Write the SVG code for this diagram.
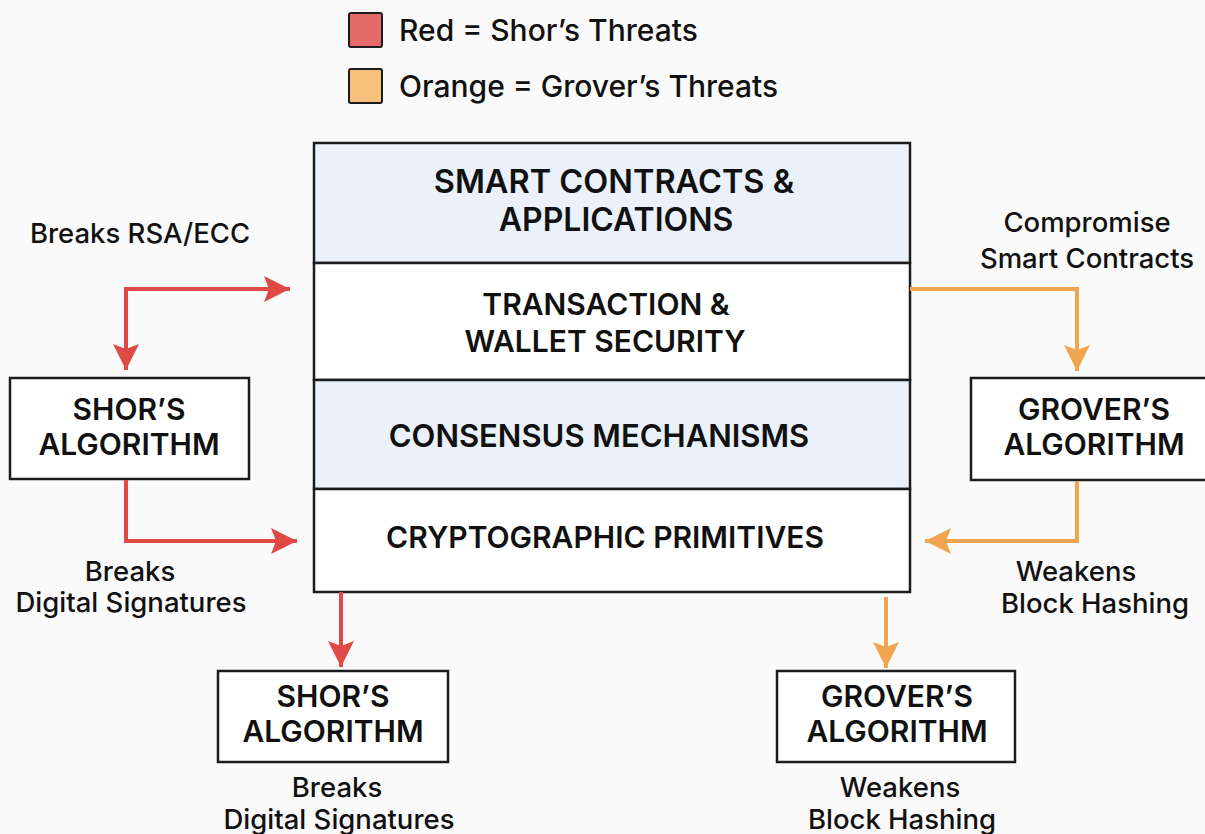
<svg xmlns="http://www.w3.org/2000/svg" width="1205" height="834" viewBox="0 0 1205 834">
<defs>
<style>
.bg{fill:#fafafa}
.box{fill:#ffffff;stroke:#1c1c1e;stroke-width:2.5}
.layerA{fill:#eaf1fb;stroke:#1c1c1e;stroke-width:2.5}
.layerB{fill:#ffffff;stroke:#1c1c1e;stroke-width:2.5}
.t{font-family:Inter,"Liberation Sans",sans-serif;fill:#111;text-anchor:middle}
.hd{font-size:30px;font-weight:600}
.lb{font-size:27.5px;font-weight:500}
.lg{font-family:Inter,"Liberation Sans",sans-serif;fill:#111;font-size:30px;font-weight:500}
.red{fill:none;stroke:#e04a46;stroke-width:4}
.org{fill:none;stroke:#f2a550;stroke-width:4}
</style>
<marker id="ahR" markerUnits="userSpaceOnUse" markerWidth="28" markerHeight="28" refX="26" refY="14" orient="auto-start-reverse" viewBox="0 0 28 28">
<path d="M0,1 L26,14 L0,27 L5,14 Z" fill="#e04a46"/>
</marker>
<marker id="ahO" markerUnits="userSpaceOnUse" markerWidth="28" markerHeight="28" refX="26" refY="14" orient="auto-start-reverse" viewBox="0 0 28 28">
<path d="M0,1 L26,14 L0,27 L5,14 Z" fill="#f2a550"/>
</marker>
</defs>
<rect class="bg" x="0" y="0" width="1205" height="834"/>

<g id="legend">
<rect x="349" y="13" width="33" height="34" rx="2" fill="#e56a68" stroke="#1c1c1e" stroke-width="2"/>
<text class="lg" x="399" y="41">Red = Shor’s Threats</text>
<rect x="349" y="69" width="33" height="34" rx="2" fill="#f7c07c" stroke="#1c1c1e" stroke-width="2"/>
<text class="lg" x="399" y="97">Orange = Grover’s Threats</text>
</g>

<g id="stack">
<rect class="layerA" x="314" y="143" width="596" height="120"/>
<rect class="layerB" x="314" y="263" width="596" height="117"/>
<rect class="layerA" x="314" y="380" width="596" height="109"/>
<rect class="layerB" x="314" y="489" width="596" height="103"/>
<text class="t hd" x="614" y="193" style="font-size:32.5px">SMART CONTRACTS &amp;</text>
<text class="t hd" x="616" y="231" style="font-size:32px">APPLICATIONS</text>
<text class="t hd" x="606" y="315">TRANSACTION &amp;</text>
<text class="t hd" x="605" y="352">WALLET SECURITY</text>
<text class="t hd" x="599" y="447" style="font-size:31px">CONSENSUS MECHANISMS</text>
<text class="t hd" x="605" y="548">CRYPTOGRAPHIC PRIMITIVES</text>
</g>

<g id="shor-left">
<rect class="box" x="10" y="378" width="239" height="101"/>
<text class="t hd" x="129" y="420">SHOR’S</text>
<text class="t hd" x="129" y="455">ALGORITHM</text>
</g>

<g id="grover-right">
<rect class="box" x="971" y="378" width="240" height="102"/>
<text class="t hd" x="1094" y="420">GROVER’S</text>
<text class="t hd" x="1094" y="455">ALGORITHM</text>
</g>

<g id="shor-bottom">
<rect class="box" x="218" y="671" width="230" height="91"/>
<text class="t hd" x="333" y="707">SHOR’S</text>
<text class="t hd" x="333" y="742">ALGORITHM</text>
</g>

<g id="grover-bottom">
<rect class="box" x="777" y="671" width="238" height="91"/>
<text class="t hd" x="897" y="707">GROVER’S</text>
<text class="t hd" x="897" y="742">ALGORITHM</text>
</g>

<g id="labels">
<text class="t lb" x="140" y="243">Breaks RSA/ECC</text>
<text class="t lb" x="1087" y="232">Compromise</text>
<text class="t lb" x="1087" y="268">Smart Contracts</text>
<text class="t lb" x="130" y="581">Breaks</text>
<text class="t lb" x="131" y="612">Digital Signatures</text>
<text class="t lb" x="1076" y="581">Weakens</text>
<text class="t lb" x="1095" y="613">Block Hashing</text>
<text class="t lb" x="337" y="797">Breaks</text>
<text class="t lb" x="339" y="829">Digital Signatures</text>
<text class="t lb" x="900" y="797">Weakens</text>
<text class="t lb" x="902" y="829">Block Hashing</text>
</g>

<g id="connectors">
<path class="red" d="M126,370 L126,289 L290,289" marker-start="url(#ahR)" marker-end="url(#ahR)"/>
<path class="red" d="M126,480 L126,541 L297,541" marker-end="url(#ahR)"/>
<path class="red" d="M341,592 L341,667" marker-end="url(#ahR)"/>
<path class="org" d="M910,289 L1077,289 L1077,371" marker-end="url(#ahO)"/>
<path class="org" d="M1077,481 L1077,541 L925,541" marker-end="url(#ahO)"/>
<path class="org" d="M886,597 L886,668" marker-end="url(#ahO)"/>
</g>
</svg>
